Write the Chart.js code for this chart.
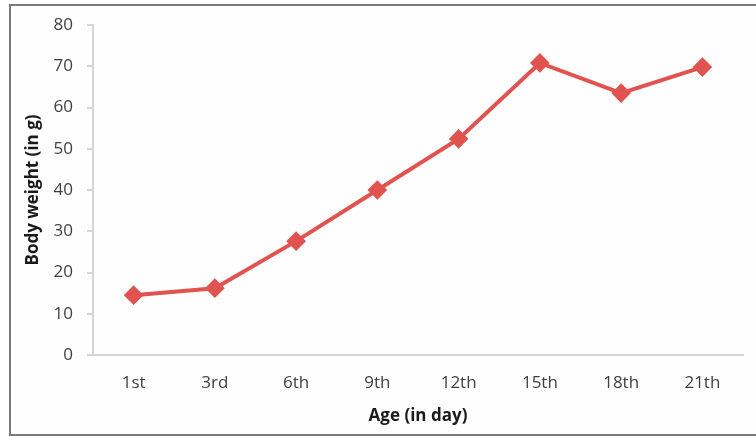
<!DOCTYPE html>
<html>
<head>
<meta charset="utf-8">
<script src="https://cdn.jsdelivr.net/npm/chart.js@4/dist/chart.umd.min.js"></script>
<style>
  html, body { margin: 0; padding: 0; background: #ffffff; }
  #wrap { position: relative; width: 756px; height: 440px; overflow: hidden; }
  #frame {
    position: absolute; left: 9px; top: 4px; width: 760px; height: 432px;
    border: 2px solid #7a7a7a; box-sizing: border-box; background: #fefefe;
  }
  canvas { position: absolute; left: 0; top: 0; }
</style>
</head>
<body>
<div id="wrap">
  <div id="frame"></div>
  <canvas id="c" width="756" height="440"></canvas>
</div>
<script>
// Age of the animals and their body weight
const ageLabels = ['1st', '3rd', '6th', '9th', '12th', '15th', '18th', '21th'];
const bodyWeight = [14.5, 16.2, 27.6, 40.0, 52.4, 70.8, 63.5, 69.8];
const yTicks = [0, 10, 20, 30, 40, 50, 60, 70, 80];

const tickFont = { family: "'Open Sans', sans-serif", size: 17 };
const titleFont = { family: "'Open Sans', sans-serif", size: 17, weight: 'bold' };

new Chart(document.getElementById('c'), {
  type: 'line',
  data: {
    labels: ageLabels,
    datasets: [{
      data: bodyWeight,
      borderColor: '#e0534f',
      backgroundColor: '#e0534f',
      borderWidth: 4,
      pointStyle: 'rectRot',
      pointRadius: 7,
      pointHoverRadius: 7,
      tension: 0,
      fill: false
    }]
  },
  options: {
    responsive: false,
    animation: false,
    events: [],
    layout: { padding: { left: 18, right: 13, top: 25, bottom: 0 } },
    plugins: { legend: { display: false }, tooltip: { enabled: false } },
    scales: {
      x: {
        offset: true,
        grid: { display: false, drawTicks: false },
        border: { display: true, color: '#d6d6d6', width: 2 },
        ticks: { color: '#404040', font: tickFont, padding: 18, maxRotation: 0 },
        title: { display: true, text: 'Age (in day)', color: '#1a1a1a', font: titleFont, padding: { top: 0, bottom: 14 } },
        afterFit: (s) => { s.height = 85; }
      },
      y: {
        min: 0, max: 80,
        afterBuildTicks: (s) => { s.ticks = yTicks.map(v => ({ value: v })); },
        grid: { display: true, drawOnChartArea: false, drawTicks: true, tickLength: 6, color: '#d6d6d6', lineWidth: 2 },
        border: { display: true, color: '#d6d6d6', width: 2 },
        ticks: { color: '#404040', font: tickFont, padding: 14 },
        title: { display: true, text: 'Body weight (in g)', color: '#1a1a1a', font: titleFont, padding: { top: 5, bottom: 0 } },
        afterFit: (s) => { s.width = 75; }
      }
    }
  }
});
</script>
</body>
</html>
